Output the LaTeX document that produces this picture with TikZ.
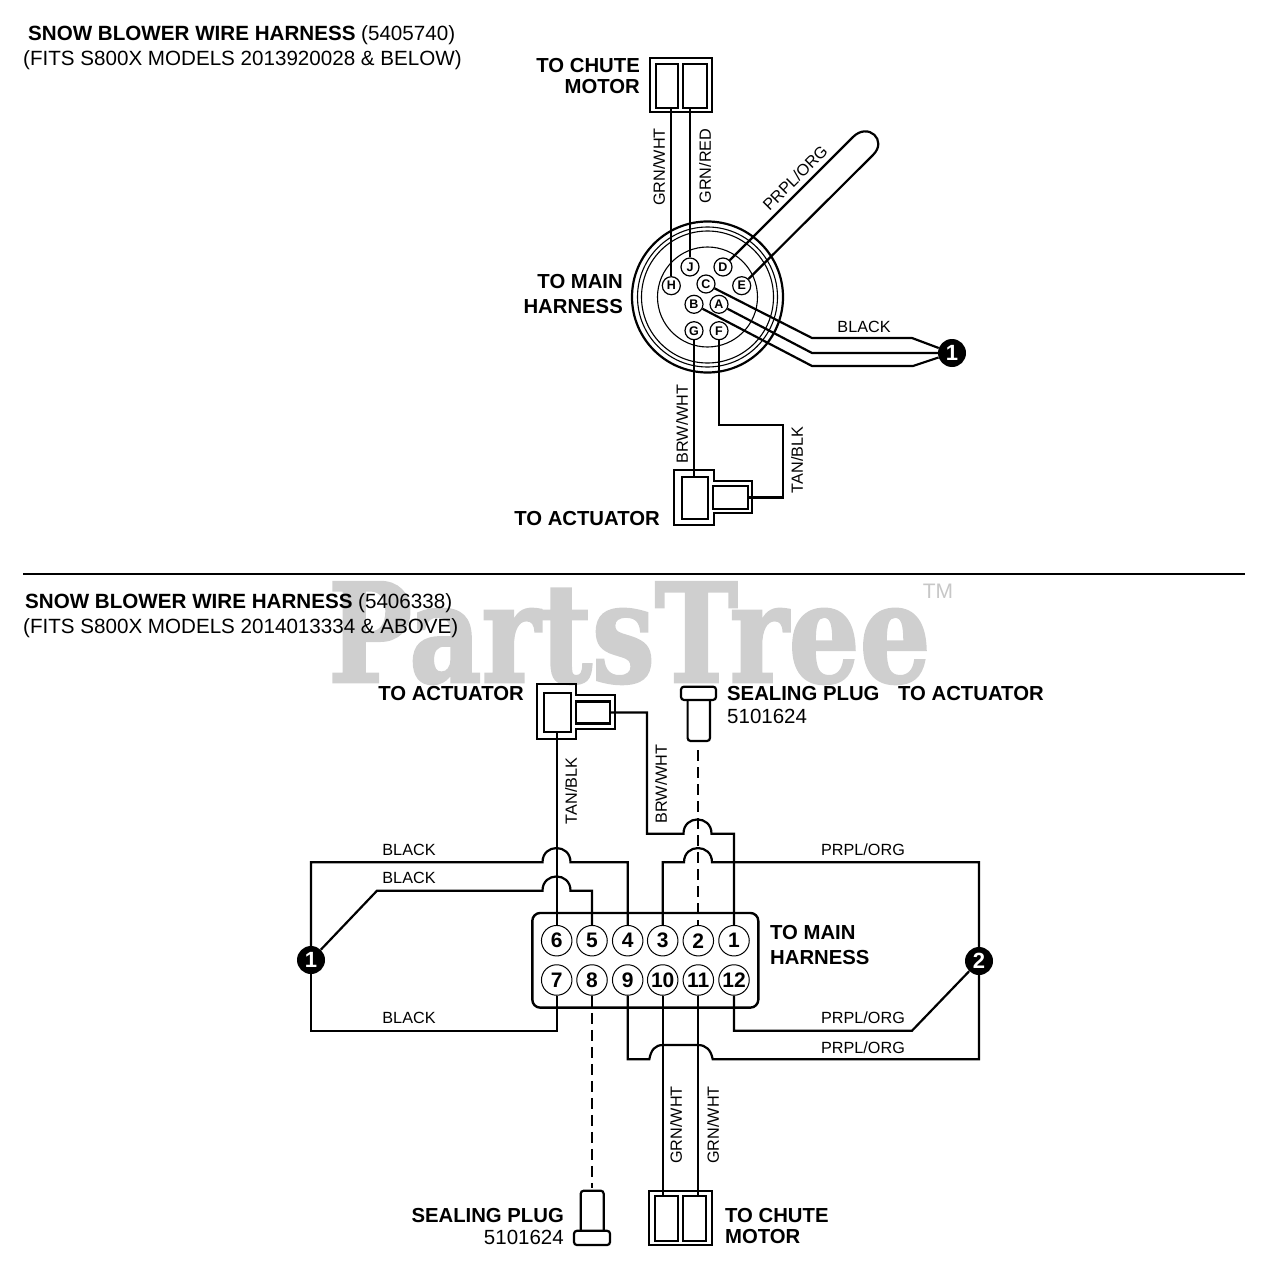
\documentclass[tikz,border=0pt]{standalone}
\usepackage{fontspec}
\setmainfont{Liberation Sans}
\newfontfamily\markfont{DejaVu Serif}[BoldFeatures={FakeBold=2}]
\usetikzlibrary{calc}
\tikzset{
  wire/.style={line width=2.2pt},
  thin ring/.style={line width=1.1pt},
  plugline/.style={line width=2.2pt,dash pattern=on 11pt off 6pt},
  cbox/.style={draw,line width=2.2pt,rectangle,inner sep=0pt},
  head/.style={inner sep=0pt,font=\fontsize{20.3}{21}\selectfont\bfseries},
  lab/.style={inner sep=0pt,font=\fontsize{16.2}{16}\selectfont},
  title/.style={inner sep=0pt,anchor=west,font=\fontsize{20.6}{20}\selectfont},
  pinbig/.style={draw,circle,line width=1pt,minimum size=30.5pt,inner sep=0pt,fill=white,font=\fontsize{21}{21}\selectfont\bfseries},
  pinsmall/.style={draw,circle,line width=1.2pt,minimum size=18pt,inner sep=0pt,fill=white,font=\fontsize{12.5}{12}\selectfont\bfseries},
  blackdot/.style={circle,fill=black,text=white,minimum size=28pt,inner sep=0pt,font=\fontsize{22}{22}\selectfont\bfseries},
}
\newcommand{\bump}{.. controls +(0,-19) and +(0,-19) .. ++(28,0)}

\begin{document}
\begin{tikzpicture}[x=1pt,y=-1pt]
  \useasboundingbox (0,0) rectangle (1280,1268);
  % watermark
  \node[anchor=base west,inner sep=0pt,xscale=.815,text=black!19,font=\markfont\bfseries\fontsize{137}{137}\selectfont] (mark) at (328,682) {PartsTree};
  \node[text=black!22,inner sep=0pt,font=\fontsize{21}{21}\selectfont] (tm) at (938,591) {TM};

  % upper harness
  \node[title] (titleA) at (28,35) {\textbf{SNOW BLOWER WIRE HARNESS} (5405740)};
  \node[title] (subA) at (23,60) {(FITS S800X MODELS 2013920028 \& BELOW)};
  \draw[wire] (707.5,297) circle (75.5);
  \draw[thin ring] (707.5,297) circle (70);
  \draw[thin ring] (707.5,297) circle (66);
  \draw[thin ring] (707.5,297) circle (50);
  \foreach \P/\X/\Y in {J/690/267,D/723/267,H/671.3/285.7,C/706/284,E/741.7/285.7,B/694/304.3,A/719/304.3,G/694/330.7,F/719/330.7}
    \node[pinsmall] (pin\P) at (\X,\Y) {\P};

  \node[cbox,minimum width=62pt,minimum height=54pt] (chuteA) at (681,85) {};
  \node[cbox,minimum width=22pt,minimum height=44pt] (chuteAl) at (667,86) {};
  \node[cbox,minimum width=24pt,minimum height=44pt] (chuteAr) at (695,86) {};
  \draw[wire] (pinH) -- (pinH |- chuteAl.south);
  \draw[wire] (pinJ) -- (pinJ |- chuteAr.south);
  \draw[wire] (pinD) -- (853,137) .. controls (868,122) and (888,140) .. (873,155) -- (pinE);

  \node[blackdot] (dotA) at (952,353) {1};
  \draw[wire] (pinC) -- (812,338) -- (912,338) -- (dotA);
  \draw[wire] (pinA) -- (812,353) -- (dotA);
  \draw[wire] (pinB) -- (812,366) -- (913,366) -- (dotA);

  \draw[wire] (674,470) -- (714,470) -- (714,481) -- (752,481) -- (752,513) -- (714,513) -- (714,525) -- (674,525) -- cycle;
  \node[cbox,minimum width=26pt,minimum height=42pt] (actAl) at (695,498) {};
  \node[cbox,minimum width=35pt,minimum height=23pt] (actAr) at (730.5,497.5) {};
  \draw[wire] (pinG) -- (pinG |- actAl.north);
  \draw[wire] (pinF) -- (719,425) -- (783,425) -- (783,497.5) -- (actAr.east);

  \node[head,align=right,anchor=east] (chuteAtxt) at (640,76.5) {TO CHUTE\\MOTOR};
  \node[head,align=right,anchor=east] (mainAtxt) at (623,294.5) {TO MAIN\\[4pt]HARNESS};
  \node[head,anchor=east] (actAtxt) at (660,519) {TO ACTUATOR};
  \node[lab,rotate=90] at (659,167) {GRN/WHT};
  \node[lab,rotate=90] at (705,166) {GRN/RED};
  \node[lab,rotate=45] at (795,178) {PRPL/ORG};
  \node[lab] at (864,327) {BLACK};
  \node[lab,rotate=90] at (682,424) {BRW/WHT};
  \node[lab,rotate=90] at (797,460) {TAN/BLK};

  \draw[wire] (23,574) -- (1245,574);

  % lower harness
  \node[title] (titleB) at (25,603) {\textbf{SNOW BLOWER WIRE HARNESS} (5406338)};
  \node[title] (subB) at (23,628) {(FITS S800X MODELS 2014013334 \& ABOVE)};
  \node[draw,line width=2.4pt,rectangle,rounded corners=8pt,minimum width=226pt,minimum height=94.7pt,inner sep=0pt] (panel) at (645.3,960.3) {};
  \foreach \N/\X in {6/556.7,5/592,4/627.7,3/662.7,2/698.3,1/734}
    \node[pinbig] (n\N) at (\X,940.7) {\N};
  \foreach \N/\X in {7/556.7,8/592,9/627.7,10/662.7,11/698.3,12/734}
    \node[pinbig] (n\N) at (\X,980) {\N};
  \node[blackdot] (dotB) at (311,960) {1};
  \node[blackdot] (dotC) at (979,961) {2};

  \draw[wire] (537,684) -- (576,684) -- (576,695) -- (615,695) -- (615,729) -- (576,729) -- (576,739) -- (537,739) -- cycle;
  \node[cbox,minimum width=27pt,minimum height=39pt] (actBl) at (557.5,712.5) {};
  \node[cbox,minimum width=34pt,minimum height=22pt] (actBr) at (593,712.5) {};
  \draw[wire] (n6) -- (n6 |- actBl.south);
  \draw[wire] (actBr.east) -- (647,712.5) -- (647,833.7) -- (683.5,833.7) \bump -- (734,833.7) -- (n1);

  \draw[wire] (dotB) -- (311,862.3) -- (542.5,862.3) \bump -- (627.7,862.3) -- (n4);
  \draw[wire] (dotB) -- (377,890.7) -- (542.5,890.7) \bump -- (592,890.7) -- (n5);
  \draw[wire] (dotB) -- (311,1030.7) -- (556.7,1030.7) -- (n7);

  \draw[wire] (dotC) -- (979,862.3) -- (712,862.3) .. controls +(0,-19) and +(0,-19) .. ++(-28,0) -- (662.7,862.3) -- (n3);
  \draw[wire] (dotC) -- (912,1030.7) -- (734,1030.7) -- (n12);
  \draw[wire] (dotC) -- (979,1059.3) -- (712.7,1059.3) .. controls (711,1050) and (706,1045) .. (698,1045) -- (663,1045) .. controls (655,1045) and (651,1050) .. (649.3,1059.3) -- (627.7,1059.3) -- (n9);

  \node[cbox,minimum width=63.6pt,minimum height=54.3pt] (chuteB) at (680.5,1217.8) {};
  \node[cbox,minimum width=22.4pt,minimum height=45pt] (chuteBl) at (666.5,1218.5) {};
  \node[cbox,minimum width=23.3pt,minimum height=45pt] (chuteBr) at (694.4,1218.5) {};
  \draw[wire] (n10) -- (n10 |- chuteBl.north);
  \draw[wire] (n11) -- (n11 |- chuteBr.north);

  % sealing plugs
  \node[draw,line width=2.2pt,rectangle,rounded corners=3pt,minimum width=35pt,minimum height=13.3pt,inner sep=0pt] (flangeT) at (698.5,693.3) {};
  \draw[wire,rounded corners=3pt] (687.6,700) -- (687.6,741) -- (710,741) -- (710,700);
  \coordinate (plugT) at (698.3,750);
  \draw[plugline] (plugT) -- (n2);
  \node[draw,line width=2.2pt,rectangle,rounded corners=3pt,minimum width=36pt,minimum height=14.3pt,inner sep=0pt] (flangeB) at (592,1237.9) {};
  \draw[wire,rounded corners=3pt] (580.7,1230.7) -- (580.7,1190.7) -- (603.7,1190.7) -- (603.7,1230.7);
  \coordinate (plugB) at (592,1188);
  \draw[plugline] (n8) -- (plugB);

  \node[head,anchor=east] (actBtxt) at (524,694) {TO ACTUATOR};
  \node[head,anchor=west] (sealT) at (727,694) {SEALING PLUG};
  \node[head,anchor=west] (actCtxt) at (898,694) {TO ACTUATOR};
  \node[anchor=west,inner sep=0pt,font=\fontsize{20.5}{20}\selectfont] (partT) at (727,716) {5101624};
  \node[head,align=left,anchor=west] (mainBtxt) at (770,945.5) {TO MAIN\\[4pt]HARNESS};
  \node[head,anchor=east] (sealB) at (564,1216) {SEALING PLUG};
  \node[anchor=east,inner sep=0pt,font=\fontsize{20.5}{20}\selectfont] (partB) at (564,1237) {5101624};
  \node[head,align=left,anchor=west] (chuteBtxt) at (725,1226.5) {TO CHUTE\\MOTOR};
  \node[lab,rotate=90] at (571,791) {TAN/BLK};
  \node[lab,rotate=90] at (661,784) {BRW/WHT};
  \foreach \Y in {850,878,1017.7} \node[lab] at (409,\Y) {BLACK};
  \foreach \Y in {850,1017.7,1047.7} \node[lab] at (863,\Y) {PRPL/ORG};
  \node[lab,rotate=90] at (676,1125) {GRN/WHT};
  \node[lab,rotate=90] at (713,1125) {GRN/WHT};
\end{tikzpicture}
\end{document}
